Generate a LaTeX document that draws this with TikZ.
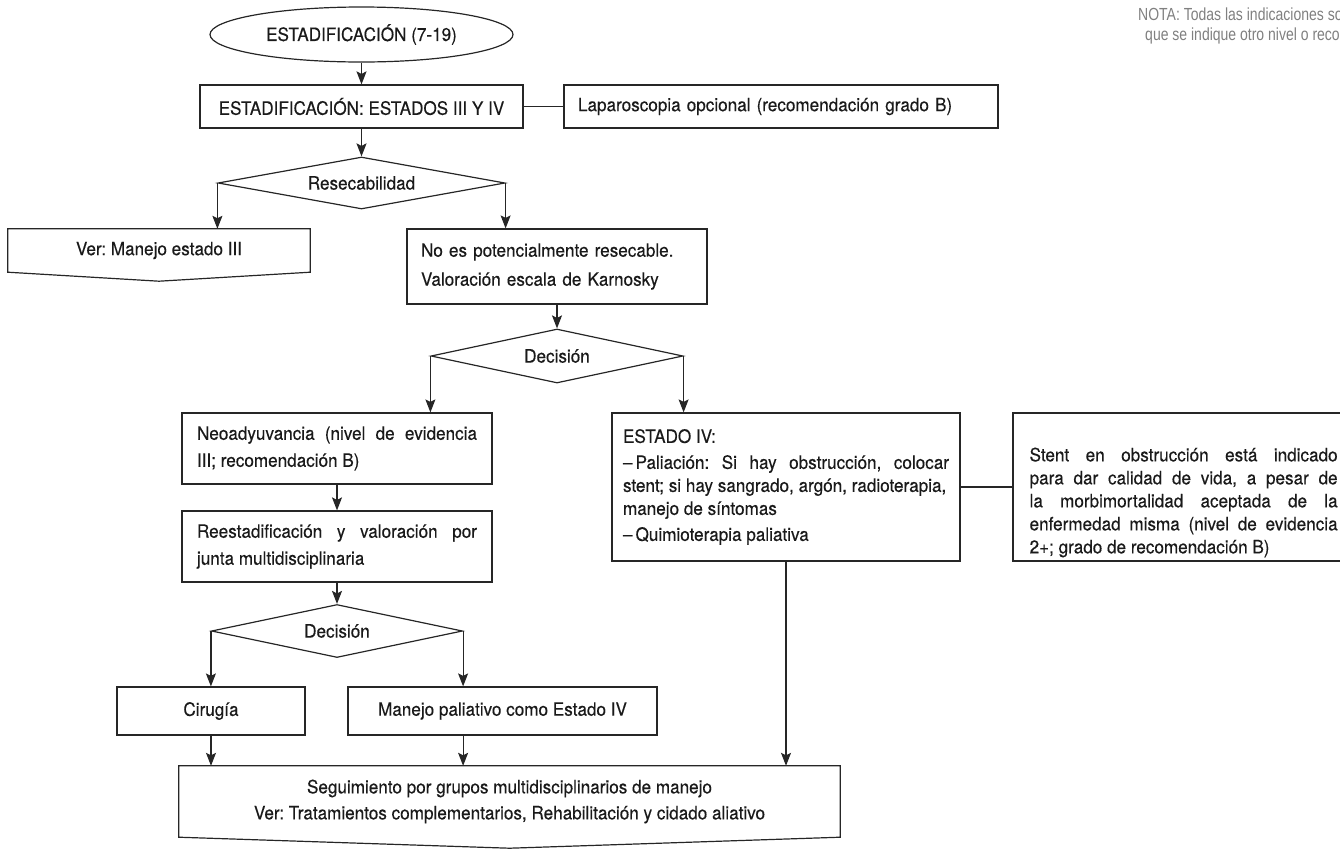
\documentclass[tikz,border=0pt]{standalone}
\usepackage{fontspec}
\setmainfont{TeX Gyre Heros}[FakeStretch=0.93, FakeBold=0.3]
\newfontfamily\notefont[FakeStretch=0.8]{Liberation Sans}
\usetikzlibrary{arrows.meta,shapes.geometric}
\definecolor{cline}{HTML}{262626}
\definecolor{ctext}{HTML}{1A1A1A}
\definecolor{cnote}{HTML}{808080}
\hyphenpenalty=10000
\exhyphenpenalty=10000
\hbadness=10000
\hfuzz=4pt
\frenchspacing
\tikzset{
  base/.style={font=\fontsize{18.4}{23}\selectfont, text=ctext},
  fbox/.style={base, draw=cline, line width=1.2pt, rectangle, inner sep=0pt, align=center},
  tbox/.style={fbox, align=justify, inner xsep=15pt},
  nend/.style={base, rectangle, inner sep=0pt, align=center},
  nstart/.style={base, draw=cline, line width=1.2pt, ellipse, inner sep=0pt},
  ndec/.style={base, draw=cline, line width=1.2pt, diamond, inner sep=0pt, shape aspect=5},
  nnote/.style={font=\notefont\fontsize{17.5}{20}\selectfont, text=cnote, inner sep=0pt},
  flow/.style={-{Stealth[length=13pt,width=10pt,inset=2.5pt]}, line width=1.2pt, draw=cline},
  link/.style={line width=1.2pt, draw=cline},
}

\begin{document}
\begin{tikzpicture}[x=1pt, y=-1pt]
  \useasboundingbox (0,0) rectangle (1340,852);
  \clip (0,0) rectangle (1340,852);
  % upper part
  \node[nstart, minimum width=303pt, minimum height=55pt] (start) at (361.5,34.5) {ESTADIFICACIÓN (7-19)};
  \node[fbox, minimum width=323pt, minimum height=43pt] (estad) at (361.5,106.5) {ESTADIFICACIÓN: ESTADOS III Y IV};
  \node[fbox, align=left, text width=406pt, inner xsep=14pt, minimum height=43pt] (lap) at (781,106.5)
    {Laparoscopia opcional (recomendación grado B)};
  \node[ndec, minimum width=287pt, minimum height=52pt] (res) at (361.5,183) {Resecabilidad};
  \node[nend, minimum width=302pt, minimum height=43pt] (ver) at (159,250.5) {Ver: Manejo estado III};
  \node[fbox, align=left, text width=272pt, inner xsep=14pt, minimum height=75pt,
        font=\fontsize{18.4}{29}\selectfont] (noes) at (557,266.5)
    {No es potencialmente resecable.\\Valoración escala de Karnosky};
  \node[ndec, minimum width=252pt, minimum height=54pt] (dec1) at (557,356) {Decisión};
  % left branch
  \node[tbox, text width=280pt, minimum height=71pt, font=\fontsize{18.4}{27}\selectfont] (neo) at (337,448.5)
    {Neoadyuvancia (nivel de evidencia\linebreak III; recomendación B)};
  \node[tbox, text width=280pt, minimum height=71pt, font=\fontsize{18.4}{27}\selectfont] (reest) at (337,546.5)
    {Reestadificación y valoración por\linebreak junta multidisciplinaria};
  \node[ndec, minimum width=251pt, minimum height=53pt] (dec2) at (337,631) {Decisión};
  \node[fbox, minimum width=188pt, minimum height=48pt] (cir) at (211,711) {Cirugía};
  \node[fbox, minimum width=309pt, minimum height=48pt] (pal) at (502.5,711) {Manejo paliativo como Estado IV};
  % right branch
  \node[tbox, text width=326pt, inner xsep=11pt, minimum height=148pt] (est4) at (786,487)
    {ESTADO IV:\\[3pt]
     –\,Paliación: Si hay obstrucción, colocar\linebreak stent; si hay sangrado, argón, radioterapia,\\
     manejo de síntomas\\[3pt]
     –\,Quimioterapia paliativa};
  \node[fbox, minimum width=341pt, minimum height=148pt] (stent) at (1183.5,487) {};
  \node[base, align=justify, text width=308pt, inner sep=0pt, anchor=north west] (stenttxt)
    at ([xshift=17pt, yshift=-35pt]stent.north west)
    {Stent en obstrucción está indicado\linebreak para dar calidad de vida, a pesar de\linebreak
     la morbimortalidad aceptada de la\linebreak enfermedad misma (nivel de evidencia\linebreak
     2+; grado de recomendación B)};
  % end
  \node[nend, minimum width=661pt, minimum height=71pt, font=\fontsize{18.4}{26}\selectfont] (fin) at (509.5,801.5)
    {Seguimiento por grupos multidisciplinarios de manejo\\
     Ver: Tratamientos complementarios, Rehabilitación y cidado aliativo};
  \node[nnote, anchor=base west] (note1) at (1138,20) {NOTA: Todas las indicaciones son};
  \node[nnote, anchor=base west] (note2) at (1145,40) {que se indique otro nivel o reco};

  \draw[link] (ver.north west) -- (ver.north east) -- (ver.south east) -- ([yshift=-9pt]ver.south)
    -- (ver.south west) -- cycle;
  \draw[link] (fin.north west) -- (fin.north east) -- (fin.south east) -- ([yshift=-11pt]fin.south)
    -- (fin.south west) -- cycle;

  \draw[flow] (start) -- (estad);
  \draw[link] (estad) -- (lap);
  \draw[flow] (estad) -- (res);
  \draw[flow] (res.west) -- (res.west |- ver.north);
  \draw[flow] (res.east) -- (res.east |- noes.north);
  \draw[flow] (noes) -- (dec1);
  \draw[flow] (dec1.west) -- (dec1.west |- neo.north);
  \draw[flow] (dec1.east) -- (dec1.east |- est4.north);
  \draw[flow] (neo) -- (reest);
  \draw[flow] (reest) -- (dec2);
  \draw[flow] (dec2.west) -- (dec2.west |- cir.north);
  \draw[flow] (dec2.east) -- (dec2.east |- pal.north);
  \draw[flow] (cir) -- (cir |- fin.north);
  \draw[flow] (pal.south -| dec2.east) -- (dec2.east |- fin.north);
  \draw[flow] (est4) -- (est4 |- fin.north);
  \draw[link] (est4) -- (stent);
\end{tikzpicture}
\end{document}
